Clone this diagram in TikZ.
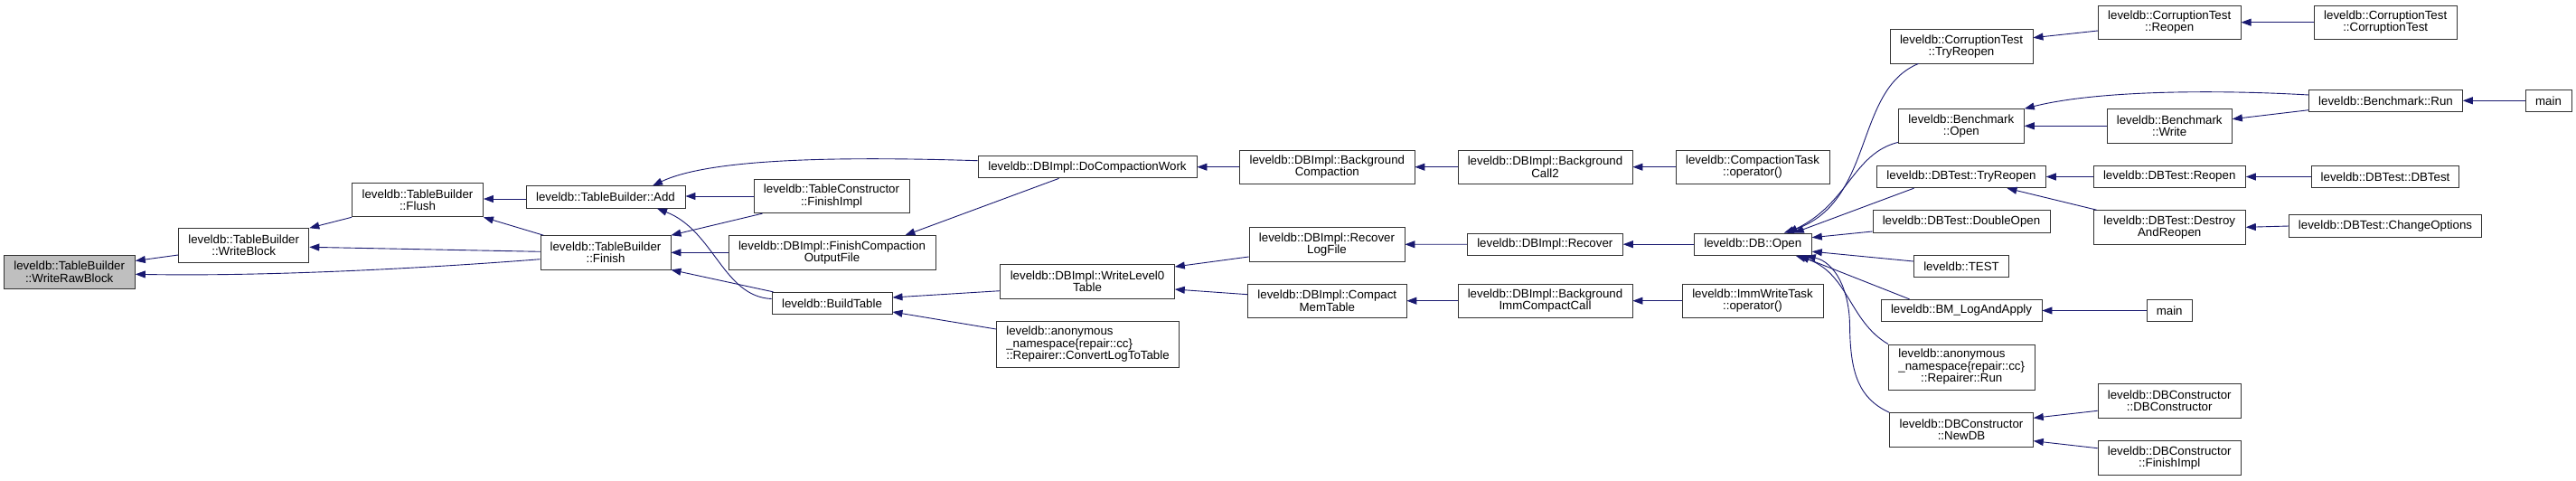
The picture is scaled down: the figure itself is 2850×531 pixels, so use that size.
\documentclass[tikz,border=0pt]{standalone}
\usepackage{fontspec}
\setmainfont{Liberation Sans}
\usetikzlibrary{arrows.meta,calc}
\definecolor{midblue}{RGB}{25,25,112}
\definecolor{nodegray}{RGB}{191,191,191}
\begin{document}
\begin{tikzpicture}[x=1pt,y=-1pt,
  box/.style={draw=black!80, line width=0.9pt, fill=white, inner sep=0pt, align=center,
    font=\fontsize{13.3}{13.3}\selectfont},
  one/.style={minimum height=24.4pt},
  two/.style={minimum height=37.3pt},
  three/.style={minimum height=50.5pt},
  calledge/.style={draw=midblue, line width=0.9pt, -{Triangle[length=11pt,width=8pt]}}]
\useasboundingbox[fill=white] (0,0) rectangle (2850,531);

% nodes
\node[box,two,fill=nodegray,minimum width=145.3pt] (wrb) at (76.7,300.8) {leveldb::TableBuilder\\::WriteRawBlock};
\node[box,two,minimum width=144.3pt] (wb) at (269.7,271.3) {leveldb::TableBuilder\\::WriteBlock};
\node[box,two,minimum width=145pt] (flush) at (462,221.2) {leveldb::TableBuilder\\::Flush};
\node[box,one,minimum width=176pt] (add) at (670,218) {leveldb::TableBuilder::Add};
\node[box,two,minimum width=144pt] (finish) at (670,279.3) {leveldb::TableBuilder\\::Finish};
\node[box,two,minimum width=172pt] (tcfi) at (920,217) {leveldb::TableConstructor\\::FinishImpl};
\node[box,two,minimum width=229pt] (fcof) at (920.5,279.3) {leveldb::DBImpl::FinishCompaction\\OutputFile};
\node[box,one,minimum width=133pt] (bt) at (920.5,335.5) {leveldb::BuildTable};
\node[box,one,minimum width=242pt] (docw) at (1203,184.7) {leveldb::DBImpl::DoCompactionWork};
\node[box,two,minimum width=192.6pt] (wl0) at (1203,311.3) {leveldb::DBImpl::WriteLevel0\\Table};
\node[box,three,minimum width=202pt,align=left] (cltt) at (1203.5,380.8) {leveldb::anonymous\\\_namespace\{repair::cc\}\\::Repairer::ConvertLogToTable};
\node[box,two,minimum width=193.3pt] (bgc) at (1468.3,184.7) {leveldb::DBImpl::Background\\Compaction};
\node[box,two,minimum width=172pt] (rlf) at (1468,270.3) {leveldb::DBImpl::Recover\\LogFile};
\node[box,two,minimum width=175.3pt] (cmt) at (1468.3,332.7) {leveldb::DBImpl::Compact\\MemTable};
\node[box,two,minimum width=193pt] (bgc2) at (1709.5,184.7) {leveldb::DBImpl::Background\\Call2};
\node[box,one,minimum width=172pt] (recover) at (1709.3,270.2) {leveldb::DBImpl::Recover};
\node[box,two,minimum width=193pt] (bgimm) at (1709.5,332.7) {leveldb::DBImpl::Background\\ImmCompactCall};
\node[box,two,minimum width=170pt] (ctask) at (1939,184.7) {leveldb::CompactionTask\\::operator()};
\node[box,one,minimum width=130pt] (dbopen) at (1939.3,270.2) {leveldb::DB::Open};
\node[box,two,minimum width=156pt] (immwt) at (1939,332.7) {leveldb::ImmWriteTask\\::operator()};
\node[box,two,minimum width=158pt] (ctr) at (2170,51.3) {leveldb::CorruptionTest\\::TryReopen};
\node[box,two,minimum width=139pt] (bo) at (2169.8,139.3) {leveldb::Benchmark\\::Open};
\node[box,one,minimum width=186.6pt] (dtr) at (2170,195.5) {leveldb::DBTest::TryReopen};
\node[box,one,minimum width=196pt] (dop) at (2170,244.8) {leveldb::DBTest::DoubleOpen};
\node[box,one,minimum width=105.4pt] (test) at (2170,294.3) {leveldb::TEST};
\node[box,one,minimum width=178pt] (bm) at (2170,343.5) {leveldb::BM\_LogAndApply};
\node[box,three,minimum width=161.7pt] (rrun) at (2170.2,406.2) {\begin{tabular}{@{}l@{}}leveldb::anonymous\\\_namespace\{repair::cc\}\\\multicolumn{1}{@{}c@{}}{::Repairer::Run}\end{tabular}};
\node[box,two,minimum width=158.6pt] (newdb) at (2170,475.3) {leveldb::DBConstructor\\::NewDB};
\node[box,two,minimum width=157.7pt] (ctreo) at (2400.2,24.7) {leveldb::CorruptionTest\\::Reopen};
\node[box,two,minimum width=138.3pt] (bw) at (2400.2,139.3) {leveldb::Benchmark\\::Write};
\node[box,one,minimum width=168.3pt] (dtreo) at (2400.2,195.5) {leveldb::DBTest::Reopen};
\node[box,two,minimum width=168.3pt] (dar) at (2400.2,251.3) {leveldb::DBTest::Destroy\\AndReopen};
\node[box,one,minimum width=50.3pt] (main2) at (2400.2,343.5) {main};
\node[box,two,minimum width=158.3pt] (dbcdbc) at (2400.2,443.3) {leveldb::DBConstructor\\::DBConstructor};
\node[box,two,minimum width=158.3pt] (dbcfi) at (2400.2,506.3) {leveldb::DBConstructor\\::FinishImpl};
\node[box,two,minimum width=157.7pt] (ctct) at (2639.2,24.7) {leveldb::CorruptionTest\\::CorruptionTest};
\node[box,one,minimum width=169.6pt] (brun) at (2639.5,111.3) {leveldb::Benchmark::Run};
\node[box,one,minimum width=163.4pt] (dbtdbt) at (2639,195.5) {leveldb::DBTest::DBTest};
\node[box,one,minimum width=212.6pt] (cho) at (2639,250) {leveldb::DBTest::ChangeOptions};
\node[box,one,minimum width=51pt] (main1) at (2819.5,111.3) {main};

% edges (caller -> callee)
\draw[calledge] ($(wb.west)+(0,10.7)$) -- ($(wrb.east)+(0,-12.3)$);
\draw[calledge] ($(finish.west)+(0,7.4)$) .. controls (480,296) and (300,306) .. ($(wrb.east)+(0,2.5)$);
\draw[calledge] (flush.south west) -- (wb.north east);
\draw[calledge] ($(finish.west)+(0,-1)$) -- ($(wb.east)+(0,2)$);
\draw[calledge] ($(add.west)+(0,2)$) -- ($(flush.east)+(0,-1.2)$);
\draw[calledge] ($(finish.north west)+(3.7,0)$) -- (flush.south east);
\draw[calledge] ($(docw.west)+(0,-7)$) .. controls (900,172) and (780,178) .. ($(add.north)+(52,0)$);
\draw[calledge] (tcfi.west) -- ($(add.east)+(0,-1)$);
\draw[calledge] ($(bt.west)+(0,-5)$) .. controls (800,328) and (790,255) .. ($(add.south)+(57,0)$);
\draw[calledge] ($(tcfi.south west)+(10,0)$) -- (finish.north east);
\draw[calledge] (fcof.west) -- (finish.east);
\draw[calledge] ($(bt.north west)+(2,0)$) -- (finish.south east);
\draw[calledge] ($(docw.south west)+(90,0)$) -- ($(fcof.north east)+(-34,0)$);
\draw[calledge] (bgc.west) -- (docw.east);
\draw[calledge] (bgc2.west) -- (bgc.east);
\draw[calledge] (ctask.west) -- (bgc2.east);
\draw[calledge] ($(wl0.west)+(0,10.4)$) -- ($(bt.east)+(0,-6.5)$);
\draw[calledge] ($(cltt.west)+(0,-16.8)$) -- ($(bt.east)+(0,9.5)$);
\draw[calledge] ($(rlf.west)+(0,13.7)$) -- ($(wl0.east)+(0,-16.3)$);
\draw[calledge] ($(cmt.west)+(0,-7)$) -- ($(wl0.east)+(0,8.7)$);
\draw[calledge] (recover.west) -- (rlf.east);
\draw[calledge] (bgimm.west) -- (cmt.east);
\draw[calledge] (immwt.west) -- (bgimm.east);
\draw[calledge] (dbopen.west) -- (recover.east);
\draw[calledge] ($(ctr.south west)+(32,0)$) .. controls (2050,100) and (2075,225) .. ($(dbopen.north east)+(-31,0)$);
\draw[calledge] ($(bo.south west)+(0,-1)$) .. controls (2050,170) and (2045,225) .. ($(dbopen.north east)+(-27,0)$);
\draw[calledge] ($(dtr.south west)+(41.3,0)$) -- ($(dbopen.north east)+(-20,0)$);
\draw[calledge] ($(dop.west)+(0,11.2)$) -- ($(dbopen.east)+(0,-7.5)$);
\draw[calledge] ($(test.west)+(0,-5.3)$) -- ($(dbopen.east)+(0,8)$);
\draw[calledge] ($(bm.north west)+(32,0)$) -- ($(dbopen.south east)+(-14,0)$);
\draw[calledge] (rrun.north west) .. controls (2045,355) and (2045,300) .. ($(dbopen.south east)+(-18,0)$);
\draw[calledge] (newdb.north west) .. controls (2055,440) and (2047,410) .. (2046.5,360) .. controls (2046,320) and (2030,290) .. ($(dbopen.south east)+(-7,0)$);
\draw[calledge] ($(ctreo.west)+(0,9.3)$) -- ($(ctr.east)+(0,-9.6)$);
\draw[calledge] (ctct.west) -- (ctreo.east);
\draw[calledge] ($(brun.west)+(0,-6.3)$) .. controls (2450,99) and (2320,100) .. (bo.north east);
\draw[calledge] (bw.west) -- (bo.east);
\draw[calledge] ($(brun.west)+(0,10.4)$) -- ($(bw.east)+(0,-7.6)$);
\draw[calledge] (main1.west) -- (brun.east);
\draw[calledge] (dtreo.west) -- (dtr.east);
\draw[calledge] ($(dar.north west)+(4,0)$) -- ($(dtr.south east)+(-43.3,0)$);
\draw[calledge] (dbtdbt.west) -- (dtreo.east);
\draw[calledge] (cho.west) -- (dar.east);
\draw[calledge] (main2.west) -- (bm.east);
\draw[calledge] ($(dbcdbc.west)+(0,11)$) -- ($(newdb.east)+(0,-13)$);
\draw[calledge] ($(dbcfi.west)+(0,-10.6)$) -- ($(newdb.east)+(0,12.4)$);
\end{tikzpicture}
\end{document}
